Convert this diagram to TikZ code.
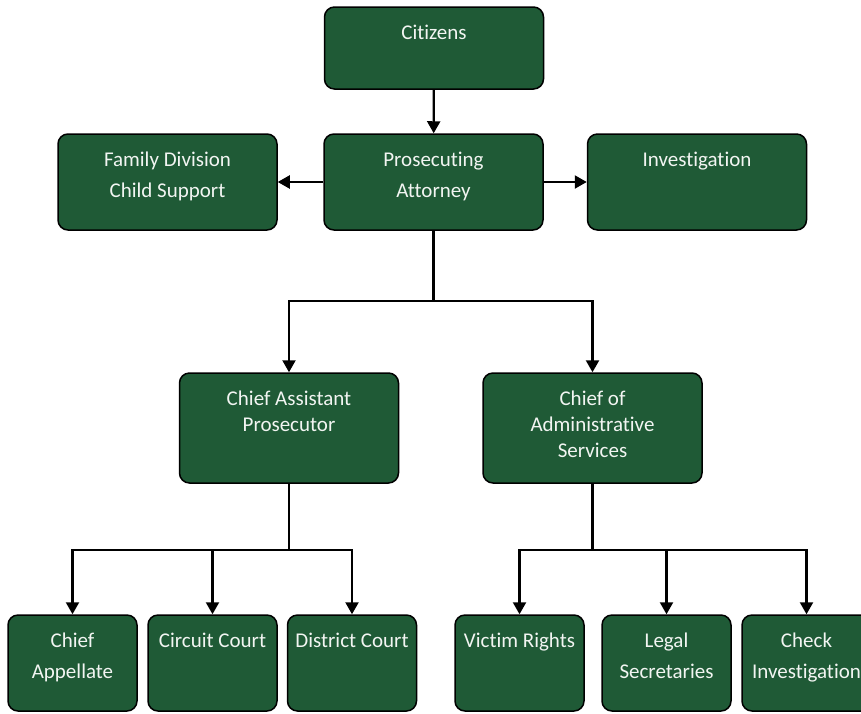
\documentclass[tikz,border=0pt]{standalone}
\usepackage{fontspec}
\setmainfont{Carlito}[Ligatures={NoCommon}]
\usetikzlibrary{arrows.meta}

\definecolor{marble}{HTML}{1F5A36}
\definecolor{marbletxt}{HTML}{F2F5F2}

\begin{document}
\begin{tikzpicture}[x=1pt, y=-1pt,
 every node/.style = {shape=rectangle, rounded corners=10pt, draw=black,
 line width=1.5pt, fill=marble, inner sep=0pt},
 unit/.style = {minimum width=219pt, minimum height=96pt},
 small/.style = {minimum width=129pt, minimum height=96pt},
 tag/.style = {label={[caption]north:#1}},
 caption/.style = {anchor=north, yshift=-16pt, draw=none, fill=none,
 inner sep=2pt, align=center, text=marbletxt,
 font=\fontsize{21}{31}\selectfont},
 link/.style = {draw, line width=2.2pt, -{Triangle[length=12pt,width=13pt]}}]
 \useasboundingbox (0,0) rectangle (861,713);

 % top of the office
 \node [unit, minimum height=82pt, tag={Citizens}] (citizens) at (434,48) {};
 \node [unit, tag={Prosecuting\\Attorney}] (prosecutor) at (433.5,182) {};
 \node [unit, tag={Family Division\\Child Support}] (family) at (167.5,182) {};
 \node [unit, tag={Investigation}] (investigation) at (697,182) {};

 % second level
 \node [unit, minimum height=110pt,
 label={[caption, font=\fontsize{21}{26}\selectfont]north:Chief Assistant\\Prosecutor}]
 (assistant) at (289,428) {};
 \node [unit, minimum height=110pt,
 label={[caption, font=\fontsize{21}{26}\selectfont]north:Chief of\\Administrative\\Services}]
 (admin) at (592.5,428) {};

 % bottom row
 \node [small, tag={Chief\\Appellate}] (appellate) at (72.5,663) {};
 \node [small, tag={Circuit Court}] (circuit) at (212.5,663) {};
 \node [small, tag={District Court}] (district) at (352,663) {};
 \node [small, tag={Victim Rights}] (victim) at (519.5,663) {};
 \node [small, tag={Legal\\Secretaries}] (legal) at (666.5,663) {};
 \node [small, tag={Check\\Investigation}] (check) at (806.5,663) {};

 \path [link] (citizens) -- (prosecutor);
 \path [link] (prosecutor) -- (family);
 \path [link] (prosecutor) -- (investigation);
 \path [link] (prosecutor.south) -- ++(0,70) -| (assistant.north);
 \path [link] (prosecutor.south) -- ++(0,70) -| (admin.north);
 \path [link] (assistant.south) -- ++(0,66) -| (appellate.north);
 \path [link] (assistant.south) -- ++(0,66) -| (circuit.north);
 \path [link] (assistant.south) -- ++(0,66) -| (district.north);
 \path [link] (admin.south) -- ++(0,66) -| (victim.north);
 \path [link] (admin.south) -- ++(0,66) -| (legal.north);
 \path [link] (admin.south) -- ++(0,66) -| (check.north);
\end{tikzpicture}
\end{document}
